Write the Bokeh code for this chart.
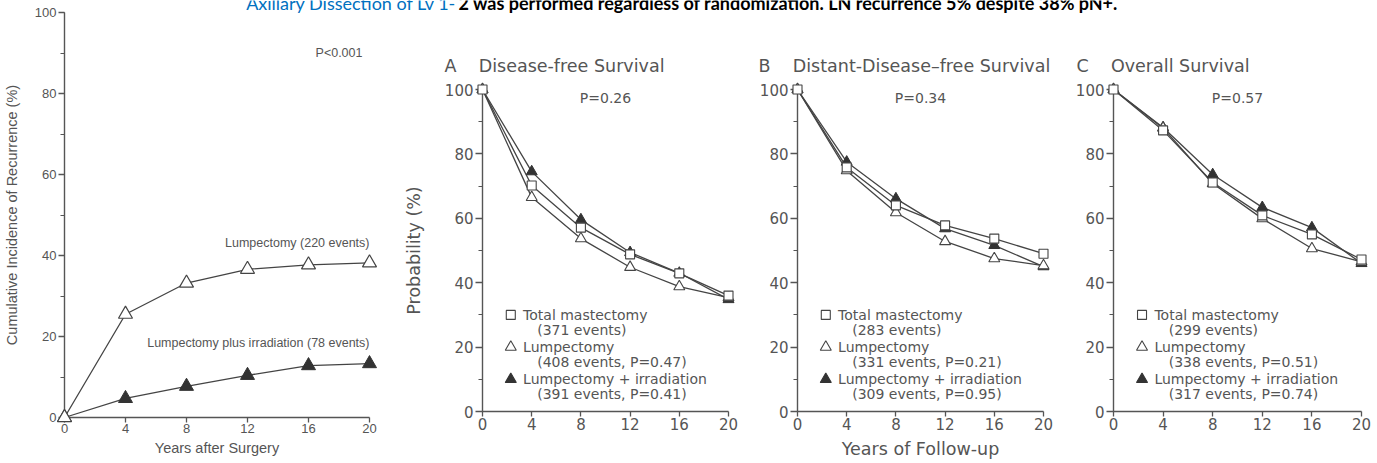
from bokeh.plotting import figure
from bokeh.models import Range1d, Label, FixedTicker, SingleIntervalTicker, GridBox
from bokeh.embed import file_html
from bokeh.resources import INLINE

# ---------------- data ----------------
years = [0, 4, 8, 12, 16, 20]
x_ticks = [0, 4, 8, 12, 16, 20]

# left panel: cumulative incidence of recurrence (%)
recur_lump = [0, 25.5, 33.2, 36.6, 37.7, 38.2]
recur_irr = [0, 4.7, 7.7, 10.4, 12.8, 13.3]
recur_lump_label = "Lumpectomy (220 events)"
recur_irr_label = "Lumpectomy plus irradiation (78 events)"
recur_p = "P<0.001"

# panel A: disease-free survival (%)
dfs_tm = [100, 70.2, 57.1, 48.8, 42.9, 36.0]
dfs_lump = [100, 66.5, 53.7, 44.8, 38.8, 35.4]
dfs_irr = [100, 74.5, 59.6, 49.4, 43.0, 34.8]
dfs_events = ["(371 events)", "(408 events, P=0.47)", "(391 events, P=0.41)"]

# panel B: distant-disease-free survival (%)
ddfs_tm = [100, 75.8, 64.0, 57.8, 53.7, 49.0]
ddfs_lump = [100, 74.8, 61.8, 52.8, 47.5, 45.3]
ddfs_irr = [100, 77.5, 66.1, 56.8, 51.6, 45.0]
ddfs_events = ["(283 events)", "(331 events, P=0.21)", "(309 events, P=0.95)"]

# panel C: overall survival (%)
os_tm = [100, 87.3, 71.1, 60.9, 55.0, 47.2]
os_lump = [100, 88.0, 70.8, 59.9, 50.6, 46.5]
os_irr = [100, 88.2, 73.6, 63.4, 57.1, 46.0]
os_events = ["(299 events)", "(338 events, P=0.51)", "(317 events, P=0.74)"]

panel_letters = ["A", "B", "C"]
panel_titles = ["Disease-free Survival", "Distant-Disease\u2013free Survival", "Overall Survival"]
panel_p = ["P=0.26", "P=0.34", "P=0.57"]
series_names = ["Total mastectomy", "Lumpectomy", "Lumpectomy + irradiation"]

headline_blue = "Axillary Dissection of Lv 1-"
headline_black = "2 was performed regardless of randomization. LN recurrence 5% despite 38% pN+."

# ---------------- style ----------------
W, H = 1377, 463
LINE = "#444444"
AXIS = "#555555"
TEXT = "#555555"
FILL = "#333333"
SANS = "Liberation Sans"
DV = "DejaVu Sans"
GAP = "\u00a0" * 4


def style_axes(p, font, tick_size, label_size, y_tick_out, y_minor_out, y_label_standoff,
               x_label_standoff, x_tick_out=5):
    for ax in p.axis:
        ax.axis_line_color = AXIS
        ax.axis_line_width = 1.4
        ax.major_tick_line_color = AXIS
        ax.major_tick_line_width = 1.3
        ax.minor_tick_line_color = AXIS
        ax.minor_tick_line_width = 1.2
        ax.major_tick_in = 0
        ax.minor_tick_in = 0
        ax.major_label_text_font = font
        ax.major_label_text_font_size = tick_size
        ax.major_label_text_color = TEXT
        ax.axis_label_text_font = font
        ax.axis_label_text_font_size = label_size
        ax.axis_label_text_font_style = "normal"
        ax.axis_label_text_color = TEXT
    p.yaxis.ticker = SingleIntervalTicker(interval=20, num_minor_ticks=2)
    p.yaxis.bounds = (0, 100)
    p.yaxis.major_tick_out = y_tick_out
    p.yaxis.minor_tick_out = y_minor_out
    p.yaxis.major_label_standoff = 2
    p.yaxis.axis_label_standoff = y_label_standoff
    p.xaxis.ticker = FixedTicker(ticks=x_ticks, minor_ticks=[])
    p.xaxis.bounds = (0, 20)
    p.xaxis.major_tick_out = x_tick_out
    p.xaxis.major_label_standoff = 1
    p.xaxis.axis_label_standoff = x_label_standoff
    p.grid.visible = False
    p.outline_line_color = None


# ---------------- left panel ----------------
pl = figure(width=400, height=H, x_range=Range1d(0, 20), y_range=Range1d(0, 100),
            output_backend="svg", toolbar_location=None, frame_align=False,
            min_border_left=63, min_border_right=31, min_border_top=12, min_border_bottom=46,
            x_axis_label="Years after Surgery",
            y_axis_label="Cumulative Incidence of Recurrence (%)")
style_axes(pl, SANS, "13px", "14.5px", 6, 4, 12, 4)

pl.line(years, recur_irr, line_color=LINE, line_width=1.3, level="overlay")
pl.scatter(years, recur_irr, marker="triangle", size=14, fill_color=FILL, line_color=FILL,
           level="overlay")
pl.line(years, recur_lump, line_color=LINE, line_width=1.3, level="overlay")
pl.scatter(years, recur_lump, marker="triangle", size=14, fill_color="white", line_color=LINE,
           line_width=1.2, level="overlay")

pl.add_layout(Label(x=18, y=90, text=recur_p, text_align="center", text_baseline="middle",
                    text_font=SANS, text_font_size="12.5px", text_color=TEXT))
pl.add_layout(Label(x=20, y=43, text=recur_lump_label, text_align="right", text_baseline="middle",
                    text_font=SANS, text_font_size="12.5px", text_color=TEXT))
pl.add_layout(Label(x=20, y=18.3, text=recur_irr_label, text_align="right",
                    text_baseline="middle", text_font=SANS, text_font_size="12.5px",
                    text_color=TEXT))


# ---------------- survival panels ----------------
def survival_panel(width, bl, br, idx, tm, lump, irr, events, title_offset,
                   xlabel=None, ylabel=None):
    p = figure(width=width, height=H, x_range=Range1d(0, 20), y_range=Range1d(0, 100),
               output_backend="svg", toolbar_location=None, frame_align=False,
               title=panel_letters[idx] + GAP + panel_titles[idx],
               min_border_left=bl, min_border_right=br, min_border_top=89, min_border_bottom=52,
               x_axis_label=xlabel, y_axis_label=ylabel)
    p.title.align = "left"
    p.title.offset = title_offset
    p.title.text_font = DV
    p.title.text_font_size = "17.5px"
    p.title.text_font_style = "normal"
    p.title.text_color = TEXT
    p.title.text_baseline = "alphabetic"
    p.title.standoff = 28
    style_axes(p, DV, "15px", "17.5px", 7, 4, 18, 6)

    p.line(years, tm, line_color=LINE, line_width=1.3, level="overlay")
    p.line(years, lump, line_color=LINE, line_width=1.3, level="overlay")
    p.line(years, irr, line_color=LINE, line_width=1.3, level="overlay")
    p.scatter(years, irr, marker="triangle", size=11, fill_color=FILL, line_color=FILL,
              level="overlay")
    p.scatter(years, lump, marker="triangle", size=11, fill_color="white", line_color=LINE,
              line_width=1.1, level="overlay")
    p.scatter(years, tm, marker="square", size=9, fill_color="white", line_color=LINE,
              line_width=1.1, level="overlay")

    p.add_layout(Label(x=10, y=97.5, text=panel_p[idx], text_align="center",
                       text_baseline="middle", text_font=DV, text_font_size="14px",
                       text_color=TEXT))

    # legend (key column, name column, indented events line)
    key_x, name_x, ev_x = 2.3, 3.3, 4.45
    rows = [30, 20, 10]
    keys = [("square", "white", 9), ("triangle", "white", 11), ("triangle", FILL, 11)]
    for (mk, fc, sz), ry, name, ev in zip(keys, rows, series_names, events):
        p.scatter([key_x], [ry], marker=mk, size=sz, fill_color=fc,
                  line_color=LINE if fc == "white" else FILL, line_width=1.1, level="overlay")
        p.add_layout(Label(x=name_x, y=ry, text=name, text_align="left", text_baseline="middle",
                           text_font=DV, text_font_size="14px", text_color=TEXT))
        p.add_layout(Label(x=ev_x, y=ry - 4.7, text=ev, text_align="left",
                           text_baseline="middle", text_font=DV, text_font_size="14px",
                           text_color=TEXT))
    return p


pa = survival_panel(350, 79, 22, 0, dfs_tm, dfs_lump, dfs_irr, dfs_events, -38,
                    ylabel="Probability (%)")
pb = survival_panel(315, 47, 22, 1, ddfs_tm, ddfs_lump, ddfs_irr, ddfs_events, -39,
                    xlabel="Years of Follow-up")
pc = survival_panel(312, 48, 16, 2, os_tm, os_lump, os_irr, os_events, -37)

# ---------------- headline (cut at the top of the slide) ----------------
top = figure(width=W, height=H, x_range=Range1d(0, W), y_range=Range1d(H, 0),
             output_backend="svg", toolbar_location=None, x_axis_type=None, y_axis_type=None,
             title=None, frame_align=False, min_border=0, background_fill_color=None,
             border_fill_color=None, outline_line_color=None)
top.grid.visible = False
top.add_layout(Label(x=456, y=2.5, text=headline_blue, text_align="right",
                     text_baseline="alphabetic", text_font="Lato", text_font_size="18px",
                     text_color="#0070C0"))
top.add_layout(Label(x=458, y=2.5, text=headline_black, text_align="left",
                     text_baseline="alphabetic", text_font="Lato", text_font_size="18px",
                     text_font_style="bold", text_color="#000000"))

grid = GridBox(children=[(pl, 0, 0), (pa, 0, 1), (pb, 0, 2), (pc, 0, 3), (top, 0, 0, 1, 4)])

open("out.html", "w").write(file_html(grid, INLINE))
